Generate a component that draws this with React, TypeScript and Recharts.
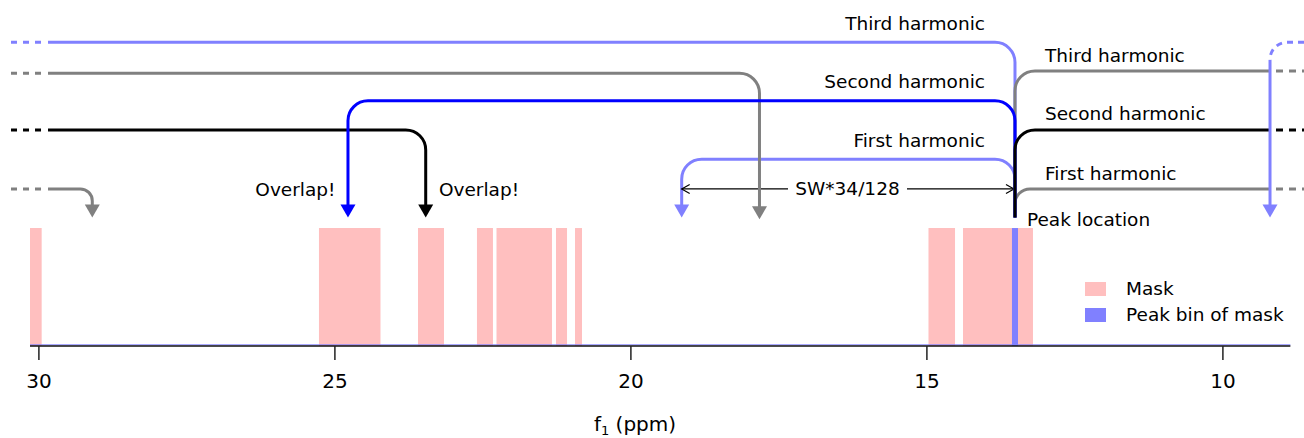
import React from 'react';
import {
  ComposedChart,
  XAxis,
  YAxis,
  Scatter,
  ReferenceArea,
  ReferenceLine,
  Legend,
} from 'recharts';

const FONT = "'DejaVu Sans', Verdana, sans-serif";
const TEXT_SIZE = 18.5;

// Chemical-shift axis, drawn from high ppm (left) to low ppm (right)
const X_DOMAIN: [number, number] = [8.63, 30.657];
const X_TICKS = [30, 25, 20, 15, 10];
const AXIS_SPAN: [number, number] = [30.15, 8.86];

// Vertical routing levels (0 = arrow tips, 1..6 = harmonic rows)
const Y_DOMAIN: [number, number] = [-4.4, 7.45];
const BASE_LEVEL = -4.4;
const MASK_TOP = -0.36;

// Masked regions of the spectrum, ppm
const MASK_RANGES: [number, number][] = [
  [30.15, 29.953],
  [25.269, 24.23],
  [23.596, 23.157],
  [22.6, 22.33],
  [22.27, 21.333],
  [21.265, 21.079],
  [20.944, 20.826],
  [14.973, 14.525],
  [14.39, 13.208],
];
const PEAK_BIN: [number, number] = [13.563, 13.461];

type Pt = { x: number; y: number };

// Harmonic routes, (ppm, level)
const LIGHT_THIRD_DASH: Pt[] = [{ x: 30.471, y: 6 }, { x: 29.897, y: 6 }];
const LIGHT_THIRD: Pt[] = [{ x: 29.846, y: 6 }, { x: 13.512, y: 6 }, { x: 13.512, y: 0 }];
const LIGHT_FIRST: Pt[] = [{ x: 13.512, y: 0 }, { x: 13.512, y: 2 }, { x: 19.142, y: 2 }, { x: 19.142, y: 0 }];
const SW_LEFT: Pt[] = [{ x: 17.346, y: 0.98 }, { x: 19.142, y: 0.98 }];
const SW_RIGHT: Pt[] = [{ x: 15.336, y: 0.98 }, { x: 13.529, y: 0.98 }];
const GRAY_THIRD_DASH: Pt[] = [{ x: 30.471, y: 4.94 }, { x: 29.897, y: 4.94 }];
const GRAY_THIRD: Pt[] = [{ x: 29.846, y: 4.94 }, { x: 17.828, y: 4.94 }, { x: 17.828, y: -0.06 }];
const GRAY_THIRD_R: Pt[] = [{ x: 13.512, y: 0 }, { x: 13.512, y: 5.02 }, { x: 9.204, y: 5.02 }];
const GRAY_THIRD_R_DASH: Pt[] = [{ x: 9.103, y: 5.02 }, { x: 8.63, y: 5.02 }];
const GRAY_FIRST_R: Pt[] = [{ x: 13.512, y: 0 }, { x: 13.512, y: 0.98 }, { x: 9.204, y: 0.98 }];
const GRAY_FIRST_R_DASH: Pt[] = [{ x: 9.103, y: 0.98 }, { x: 8.63, y: 0.98 }];
const BLACK_SECOND_DASH: Pt[] = [{ x: 30.471, y: 3 }, { x: 29.897, y: 3 }];
const BLACK_SECOND: Pt[] = [{ x: 29.846, y: 3 }, { x: 23.466, y: 3 }, { x: 23.466, y: 0 }];
const BLUE_SECOND: Pt[] = [{ x: 13.512, y: 0 }, { x: 13.512, y: 4 }, { x: 24.779, y: 4 }, { x: 24.779, y: 0 }];
const BLACK_SECOND_R: Pt[] = [{ x: 13.512, y: 0 }, { x: 13.512, y: 3 }, { x: 9.204, y: 3 }];
const BLACK_SECOND_R_DASH: Pt[] = [{ x: 9.103, y: 3 }, { x: 8.63, y: 3 }];
const GRAY_FIRST_DASH: Pt[] = [{ x: 30.471, y: 0.98 }, { x: 29.897, y: 0.98 }];
const GRAY_FIRST: Pt[] = [{ x: 29.846, y: 0.98 }, { x: 29.098, y: 0.98 }, { x: 29.098, y: 0 }];
const LIGHT_WRAP_DASH: Pt[] = [{ x: 8.63, y: 6 }, { x: 9.204, y: 6 }, { x: 9.204, y: 5.4 }];
const LIGHT_WRAP: Pt[] = [{ x: 9.204, y: 5.4 }, { x: 9.204, y: 0 }];

const LIGHT = '#8080FF';
const BLUE = '#0000FF';
const GRAY = '#808080';
const BLACK = '#000000';

type Head = 'solid' | 'open' | undefined;
interface RouteSpec {
  id: string;
  points: Pt[];
  color: string;
  width: number;
  radius: number;
  dash?: string;
  head?: Head;
}

const ROUTES: RouteSpec[] = [
  { id: 'l3d', points: LIGHT_THIRD_DASH, color: LIGHT, width: 3, radius: 0, dash: '6 6' },
  { id: 'l3', points: LIGHT_THIRD, color: LIGHT, width: 3, radius: 20 },
  { id: 'l1', points: LIGHT_FIRST, color: LIGHT, width: 3, radius: 20, head: 'solid' },
  { id: 'swl', points: SW_LEFT, color: BLACK, width: 1.2, radius: 0, head: 'open' },
  { id: 'swr', points: SW_RIGHT, color: BLACK, width: 1.2, radius: 0, head: 'open' },
  { id: 'g3d', points: GRAY_THIRD_DASH, color: GRAY, width: 3, radius: 0, dash: '6 6' },
  { id: 'g3', points: GRAY_THIRD, color: GRAY, width: 3, radius: 20, head: 'solid' },
  { id: 'g3r', points: GRAY_THIRD_R, color: GRAY, width: 3, radius: 20 },
  { id: 'g3rd', points: GRAY_THIRD_R_DASH, color: GRAY, width: 3, radius: 0, dash: '7 6' },
  { id: 'g1r', points: GRAY_FIRST_R, color: GRAY, width: 3, radius: 15 },
  { id: 'g1rd', points: GRAY_FIRST_R_DASH, color: GRAY, width: 3, radius: 0, dash: '7 6' },
  { id: 'k2d', points: BLACK_SECOND_DASH, color: BLACK, width: 3, radius: 0, dash: '6 6' },
  { id: 'k2', points: BLACK_SECOND, color: BLACK, width: 3, radius: 20, head: 'solid' },
  { id: 'b2', points: BLUE_SECOND, color: BLUE, width: 3, radius: 20, head: 'solid' },
  { id: 'k2r', points: BLACK_SECOND_R, color: BLACK, width: 3, radius: 20 },
  { id: 'k2rd', points: BLACK_SECOND_R_DASH, color: BLACK, width: 3, radius: 0, dash: '7 6' },
  { id: 'g1d', points: GRAY_FIRST_DASH, color: GRAY, width: 3, radius: 0, dash: '6 6' },
  { id: 'g1', points: GRAY_FIRST, color: GRAY, width: 3, radius: 12, head: 'solid' },
  { id: 'lwd', points: LIGHT_WRAP_DASH, color: LIGHT, width: 3, radius: 17, dash: '6 5' },
  { id: 'lw', points: LIGHT_WRAP, color: LIGHT, width: 3, radius: 0, head: 'solid' },
];

// Text annotations, (ppm, level of baseline)
const LABELS = [
  { x: 14.019, y: 6.42, text: 'Third harmonic', anchor: 'end' },
  { x: 14.019, y: 4.42, text: 'Second harmonic', anchor: 'end' },
  { x: 14.019, y: 2.42, text: 'First harmonic', anchor: 'end' },
  { x: 13.005, y: 5.34, text: 'Third harmonic', anchor: 'start' },
  { x: 13.005, y: 3.34, text: 'Second harmonic', anchor: 'start' },
  { x: 13.005, y: 1.28, text: 'First harmonic', anchor: 'start' },
  { x: 13.31, y: -0.29, text: 'Peak location', anchor: 'start' },
  { x: 24.99, y: 0.74, text: 'Overlap!', anchor: 'end' },
  { x: 23.242, y: 0.74, text: 'Overlap!', anchor: 'start' },
  { x: 16.341, y: 0.77, text: 'SW*34/128', anchor: 'middle' },
];

const LEGEND_ITEMS = [
  { label: 'Mask', color: '#FFBFBF' },
  { label: 'Peak bin of mask', color: '#8080FF' },
];

const HEAD_LEN = 13;
const HEAD_HALF = 7.5;

function buildPath(src: Pt[], radius: number, trimEnd: number): string {
  const p = src.map((q) => ({ x: q.x, y: q.y }));
  const n = p.length;
  if (n < 2) return '';
  if (trimEnd > 0) {
    const a = p[n - 2];
    const b = p[n - 1];
    const L = Math.hypot(b.x - a.x, b.y - a.y) || 1;
    p[n - 1] = { x: b.x - ((b.x - a.x) / L) * trimEnd, y: b.y - ((b.y - a.y) / L) * trimEnd };
  }
  let d = `M${p[0].x},${p[0].y}`;
  for (let i = 1; i < n - 1; i++) {
    const a = p[i - 1];
    const b = p[i];
    const c = p[i + 1];
    const l1 = Math.hypot(b.x - a.x, b.y - a.y);
    const l2 = Math.hypot(c.x - b.x, c.y - b.y);
    if (!l1 || !l2) continue;
    const u1 = { x: (b.x - a.x) / l1, y: (b.y - a.y) / l1 };
    const u2 = { x: (c.x - b.x) / l2, y: (c.y - b.y) / l2 };
    const r = Math.min(radius, i === 1 ? l1 : l1 / 2, i === n - 2 ? l2 : l2 / 2);
    const s = { x: b.x - u1.x * r, y: b.y - u1.y * r };
    const e = { x: b.x + u2.x * r, y: b.y + u2.y * r };
    const k = 0.5523 * r;
    d += ` L${s.x},${s.y} C${s.x + u1.x * k},${s.y + u1.y * k} ${e.x - u2.x * k},${e.y - u2.y * k} ${e.x},${e.y}`;
  }
  d += ` L${p[n - 1].x},${p[n - 1].y}`;
  return d;
}

function RouteMark({ spec, pts }: { spec: RouteSpec; pts: Pt[] }) {
  if (pts.length < 2) return null;
  const tip = pts[pts.length - 1];
  const prev = pts[pts.length - 2];
  const L = Math.hypot(tip.x - prev.x, tip.y - prev.y) || 1;
  const ux = (tip.x - prev.x) / L;
  const uy = (tip.y - prev.y) / L;
  const nx = -uy;
  const ny = ux;
  const trim = spec.head === 'solid' ? HEAD_LEN - 1 : 0;
  const d = buildPath(pts, spec.radius, trim);
  let head: React.ReactNode = null;
  if (spec.head === 'solid') {
    const bx = tip.x - ux * HEAD_LEN;
    const by = tip.y - uy * HEAD_LEN;
    head = (
      <polygon
        points={`${tip.x},${tip.y} ${bx + nx * HEAD_HALF},${by + ny * HEAD_HALF} ${bx - nx * HEAD_HALF},${by - ny * HEAD_HALF}`}
        fill={spec.color}
        stroke="none"
      />
    );
  } else if (spec.head === 'open') {
    const bx = tip.x - ux * 8;
    const by = tip.y - uy * 8;
    head = (
      <path
        d={`M${bx + nx * 4.5},${by + ny * 4.5} L${tip.x},${tip.y} L${bx - nx * 4.5},${by - ny * 4.5}`}
        fill="none"
        stroke={spec.color}
        strokeWidth={spec.width}
      />
    );
  }
  return (
    <g>
      <path
        d={d}
        fill="none"
        stroke={spec.color}
        strokeWidth={spec.width}
        strokeDasharray={spec.dash}
        strokeLinecap="butt"
        strokeLinejoin="round"
      />
      {head}
    </g>
  );
}

const makeLine = (spec: RouteSpec) => (props: any) => {
  const pts: Pt[] = (props.points || []).filter(
    (q: any) => q && q.x != null && q.y != null
  );
  return <RouteMark spec={spec} pts={pts} />;
};

const noMarker = () => <g />;

const renderLabel = (p: any) => {
  const item = p.payload || {};
  return (
    <text
      x={p.cx}
      y={p.cy}
      textAnchor={item.anchor}
      fontFamily={FONT}
      fontSize={TEXT_SIZE}
      fill="#000"
    >
      {item.text}
    </text>
  );
};

const AxisTitle = (props: any) => {
  const vb = props.viewBox || {};
  const cx = (vb.x ?? 0) + (vb.width ?? 1304) / 2 - 17;
  const y = (vb.y ?? 346) + 85;
  return (
    <text x={cx} y={y} textAnchor="middle" fontFamily={FONT} fontSize={20} fill="#000">
      f
      <tspan fontSize={13} dy={4}>1</tspan>
      <tspan dy={-4}> (ppm)</tspan>
    </text>
  );
};

const renderLegend = () => (
  <div style={{ fontFamily: FONT, fontSize: TEXT_SIZE, color: '#000' }}>
    {LEGEND_ITEMS.map((it) => (
      <div key={it.label} style={{ display: 'flex', alignItems: 'center', height: 26 }}>
        <span
          style={{ display: 'inline-block', width: 21, height: 14, background: it.color, marginRight: 20 }}
        />
        <span style={{ lineHeight: '26px', whiteSpace: 'nowrap' }}>{it.label}</span>
      </div>
    ))}
  </div>
);

export default function App() {
  return (
    <div style={{ position: 'absolute', left: 0, top: 0, background: '#fff' }}>
      <ComposedChart width={1304} height={438} margin={{ top: 0, right: 0, bottom: 0, left: 0 }}>
        <XAxis
          type="number"
          dataKey="x"
          domain={X_DOMAIN}
          reversed
          allowDataOverflow
          ticks={X_TICKS}
          interval={0}
          axisLine={false}
          tickLine={{ stroke: '#222', strokeWidth: 1.5 }}
          tickSize={14}
          tickMargin={14}
          height={92}
          tick={{ fontSize: 20, fill: '#000', fontFamily: FONT }}
          label={{ content: AxisTitle }}
        />
        <YAxis type="number" dataKey="y" domain={Y_DOMAIN} allowDataOverflow hide />
        {MASK_RANGES.map(([a, b], i) => (
          <ReferenceArea
            key={`mask-${i}`}
            x1={a}
            x2={b}
            y1={BASE_LEVEL}
            y2={MASK_TOP}
            fill="#FFBFBF"
            fillOpacity={1}
            stroke="none"
          />
        ))}
        <ReferenceArea
          x1={PEAK_BIN[0]}
          x2={PEAK_BIN[1]}
          y1={BASE_LEVEL}
          y2={MASK_TOP}
          fill="#8080FF"
          fillOpacity={1}
          stroke="none"
        />
        <ReferenceLine
          segment={[{ x: AXIS_SPAN[0], y: BASE_LEVEL + 0.04 }, { x: AXIS_SPAN[1], y: BASE_LEVEL + 0.04 }]}
          stroke="#8080FF"
          strokeWidth={1}
        />
        <ReferenceLine
          segment={[{ x: AXIS_SPAN[0], y: BASE_LEVEL }, { x: AXIS_SPAN[1], y: BASE_LEVEL }]}
          stroke="#111"
          strokeWidth={1.4}
        />
        {ROUTES.map((spec) => (
          <Scatter
            key={spec.id}
            data={spec.points}
            line={makeLine(spec)}
            shape={noMarker}
            legendType="none"
            isAnimationActive={false}
          />
        ))}
        <Scatter data={LABELS} shape={renderLabel} legendType="none" isAnimationActive={false} />
        <Legend
          layout="horizontal"
          verticalAlign="middle"
          align="center"
          content={renderLegend}
          wrapperStyle={{ left: 1085, top: 276, width: 219, height: 52 }}
        />
      </ComposedChart>
    </div>
  );
}
